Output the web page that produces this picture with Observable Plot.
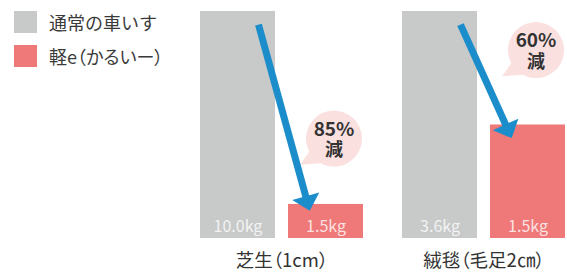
<!DOCTYPE html>
<html>
<head>
<meta charset="utf-8">
<script src="https://cdn.jsdelivr.net/npm/d3@7"></script>
<script src="https://cdn.jsdelivr.net/npm/@observablehq/plot@0.6"></script>
<style>
  html, body { margin: 0; padding: 0; background: #fff; overflow: hidden; }
  #wrap { position: relative; width: 567px; height: 273px; }
  #legend { position: absolute; left: 0; top: 0; font-family: "Noto Sans CJK JP", sans-serif; color: #3a3a3a; }
  .item { position: absolute; left: 14px; display: flex; align-items: center; white-space: nowrap; }
  .sw { width: 23px; height: 22px; margin-right: 12px; }
  .lab { font-size: 18px; line-height: 22px; }
  .palt { font-feature-settings: "palt"; }
</style>
</head>
<body>
<div id="wrap"><div id="legend"></div></div>
<script>
// ---- data ----
const groups = ["芝生（1cm）", "絨毯（毛足2㎝）"];
const series = ["通常の車いす", "軽e（かるいー）"];
const standardKg = ["10.0kg", "3.6kg"];
const lightKg = ["1.5kg", "1.5kg"];
const standardHeight = [100, 100];   // drawn bar heights (relative)
const lightHeight = [15, 50];
const reduction = ["85%", "60%"];
// annotation anchors (value-scale units)
const arrowStart = [94, 94];
const arrowEnd = [12, 44];
const bubbleAt = [44, 83];

const colors = ["#c8c9c9", "#ef7878"];
const blue = "#1b8dcb";
const pink = "#fbe0e0";

const bars = groups.flatMap((g, i) => [
  {group: g, series: series[0], value: standardHeight[i], label: standardKg[i]},
  {group: g, series: series[1], value: lightHeight[i], label: lightKg[i]}
]);
const arrows = groups.map((g, i) => ({group: g, y1: arrowStart[i], y2: arrowEnd[i]}));
const bubbles = groups.map((g, i) => ({group: g, y: bubbleAt[i], pct: reduction[i], word: "減"}));

const bubbleSymbol = {
  draw(context, size) {
    const r = Math.sqrt(size / Math.PI);
    const a1 = 118 * Math.PI / 180, a2 = 152 * Math.PI / 180;
    context.moveTo(r * Math.cos(a1), r * Math.sin(a1));
    context.lineTo(-1.21 * r, 0.93 * r);
    context.lineTo(r * Math.cos(a2), r * Math.sin(a2));
    context.arc(0, 0, r, a2, a1 + 2 * Math.PI);
    context.closePath();
  }
};

const font = "'Noto Sans CJK JP', sans-serif";

const chart = Plot.plot({
  width: 567,
  height: 273,
  marginLeft: 199,
  marginRight: 0,
  marginTop: 11,
  marginBottom: 35,
  style: {fontFamily: font, background: "transparent"},
  fx: {domain: groups, paddingInner: 0.1827, paddingOuter: 0, label: null},
  x: {domain: series, paddingInner: 0.1457, paddingOuter: 0, axis: null},
  y: {domain: [0, 100], axis: null},
  color: {domain: series, range: colors},
  marks: [
    Plot.barY(bars, {fx: "group", x: "series", y: "value", fill: "series"}),
    Plot.text(bars, {fx: "group", x: "series", y: 0, dy: -12, text: "label", fill: "white", fillOpacity: 0.8, fontSize: 16}),
    Plot.dot(bubbles, {fx: "group", x: () => series[1], y: "y", r: 28, dx: 8, symbol: bubbleSymbol, fill: pink, stroke: "none"}),
    Plot.text(bubbles, {fx: "group", x: () => series[1], y: "y", dx: 8, dy: -9, text: "pct", fontSize: 19, fontWeight: "bold", fill: "#333"}),
    Plot.text(bubbles, {fx: "group", x: () => series[1], y: "y", dx: 8, dy: 12, text: "word", fontSize: 18, fontWeight: "bold", fill: "#333"}),
    Plot.link(arrows, {
      fx: "group", x1: () => series[0], x2: () => series[1], y1: "y1", y2: "y2",
      render(index, scales, values) {
        const bw = scales.x.bandwidth();
        const g = d3.create("svg:g");
        for (const i of index) {
          const x1 = values.x1[i] + bw * 0.78, y1 = values.y1[i];
          const x2 = values.x2[i] + bw * 0.29, y2 = values.y2[i];
          const dx = x2 - x1, dy = y2 - y1, len = Math.hypot(dx, dy);
          const ux = dx / len, uy = dy / len;
          const hl = 15, hw = 14;
          const bx = x2 - ux * hl, by = y2 - uy * hl;
          g.append("line").attr("x1", x1).attr("y1", y1).attr("x2", bx + ux * 2).attr("y2", by + uy * 2)
            .attr("stroke", blue).attr("stroke-width", 7);
          g.append("polygon")
            .attr("points", `${x2},${y2} ${bx - uy * hw},${by + ux * hw} ${bx + uy * hw},${by - ux * hw}`)
            .attr("fill", blue);
        }
        return g.node();
      }
    }),
    Plot.axisFx({anchor: "bottom", tickSize: 0, tickPadding: 15, fontSize: 18.5, label: null, fill: "#333"})
  ]
});

chart.querySelectorAll("text").forEach(t => {
  if (/（/.test(t.textContent)) t.style.fontFeatureSettings = '"palt"';
});

const wrap = document.getElementById("wrap");
wrap.insertBefore(chart, wrap.firstChild);

const legend = document.getElementById("legend");
series.forEach((s, i) => {
  const item = document.createElement("div");
  item.className = "item";
  item.style.top = (11 + i * 34) + "px";
  const sw = document.createElement("div");
  sw.className = "sw";
  sw.style.background = colors[i];
  const lab = document.createElement("span");
  lab.className = "lab" + (/（/.test(s) ? " palt" : "");
  lab.textContent = s;
  item.appendChild(sw);
  item.appendChild(lab);
  legend.appendChild(item);
});
</script>
</body>
</html>
